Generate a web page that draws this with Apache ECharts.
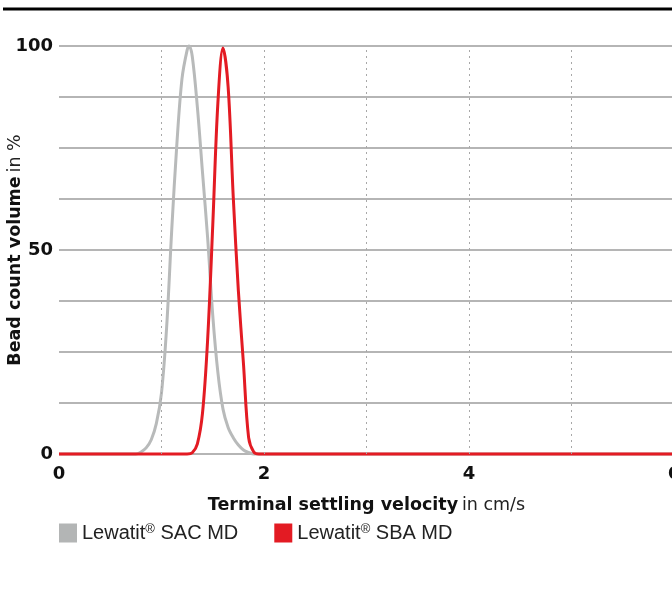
<!DOCTYPE html>
<html>
<head>
<meta charset="utf-8">
<script src="https://cdn.jsdelivr.net/npm/echarts@6/dist/echarts.min.js"></script>
<style>html,body{margin:0;padding:0;background:#fff}#c{width:672px;height:601px}</style>
</head>
<body>
<div id="c"></div>
<script>
var seriesNames = ['Lewatit® SAC MD', 'Lewatit® SBA MD'];
var sacX = [0, 0.7, 0.75, 0.8, 0.85, 0.9, 0.95, 1.0, 1.05, 1.1, 1.15, 1.2, 1.25, 1.27, 1.3, 1.35, 1.4, 1.45, 1.5, 1.55, 1.6, 1.65, 1.7, 1.75, 1.8, 1.85, 1.9, 1.95, 6];
var sacY = [0, 0, 0, 0.5, 1.5, 3.5, 7.5, 15, 31, 55, 76, 92, 99, 100, 97.5, 85, 69, 53, 34, 20, 11, 6.5, 4, 2.2, 1, 0.4, 0, 0, 0];
var sbaX = [0, 1.2, 1.25, 1.3, 1.35, 1.4, 1.45, 1.5, 1.55, 1.6, 1.65, 1.7, 1.75, 1.8, 1.85, 1.9, 1.95, 2.0, 6];
var sbaY = [0, 0, 0, 0.3, 2.5, 10, 28, 56, 86, 99.5, 90, 63, 40, 22, 4, 0.5, 0, 0, 0];
var xTicks = [0, 2, 4, 6];
var yTicks = [0, 50, 100];
var dottedX = [1, 2, 3, 4, 5];

function pairs(xs, ys) { return xs.map(function (x, i) { return [x, ys[i]]; }); }

var boldFont = 'DejaVu Sans';
var legendFont = 'Liberation Sans';
var chart = echarts.init(document.getElementById('c'));
chart.setOption({
  animation: false,
  textStyle: { fontFamily: boldFont },
  graphic: [{
    type: 'line', shape: { x1: 3, y1: 9, x2: 672, y2: 9 },
    style: { stroke: '#000', lineWidth: 3 }
  }],
  grid: { left: 59, top: 46, width: 615, height: 408, outerBoundsMode: 'none', containLabel: false },
  legend: {
    left: 59, top: 523, padding: 0, itemWidth: 18, itemHeight: 19, itemGap: 36,
    icon: 'rect',
    data: seriesNames,
    formatter: function (n) { return n.replace('®', '{s|®}'); },
    textStyle: {
      fontFamily: legendFont, fontSize: 20, color: '#222',
      rich: { s: { fontFamily: legendFont, fontSize: 13, verticalAlign: 'top', color: '#222', padding: [0, 0, 6, 0] } }
    }
  },
  xAxis: {
    type: 'value', min: 0, max: 6, interval: 1,
    axisLine: { show: false }, axisTick: { show: false },
    splitLine: { show: false },
    axisLabel: {
      margin: 11, fontSize: 18, fontWeight: 'bold', color: '#111', fontFamily: boldFont,
      formatter: function (v) { return xTicks.indexOf(v) >= 0 ? String(v) : ''; }
    },
    name: '{b|Terminal settling velocity} {n|in cm/s}',
    nameLocation: 'middle', nameGap: 42, nameMoveOverlap: false,
    nameTextStyle: {
      rich: {
        b: { fontSize: 17.5, fontWeight: 'bold', color: '#111', fontFamily: boldFont },
        n: { fontSize: 17.5, color: '#222', fontFamily: boldFont }
      }
    }
  },
  yAxis: {
    type: 'value', min: 0, max: 100, interval: 12.5,
    axisLine: { show: false }, axisTick: { show: false },
    splitLine: { show: true, lineStyle: { color: '#9c9c9c', width: 1.5 } },
    axisLabel: {
      margin: 6, fontSize: 18, fontWeight: 'bold', color: '#111', fontFamily: boldFont,
      formatter: function (v) { return yTicks.indexOf(v) >= 0 ? String(v) : ''; }
    },
    name: '{b|Bead count volume} {n|in %}',
    nameLocation: 'middle', nameGap: 35, nameRotate: 90, nameMoveOverlap: false,
    nameTextStyle: {
      rich: {
        b: { fontSize: 17.5, fontWeight: 'bold', color: '#111', fontFamily: boldFont },
        n: { fontSize: 17.5, color: '#222', fontFamily: boldFont }
      }
    }
  },
  series: [{
    name: seriesNames[0], type: 'line', data: pairs(sacX, sacY),
    smooth: 0.35, showSymbol: false, clip: false,
    color: '#b3b5b5',
    lineStyle: { width: 3, color: '#b8baba' },
    markLine: {
      silent: true, symbol: 'none', label: { show: false },
      lineStyle: { type: [2, 4], color: '#a8a8a8', width: 1 },
      data: dottedX.map(function (x) { return { xAxis: x }; })
    },
    z: 2
  }, {
    name: seriesNames[1], type: 'line', data: pairs(sbaX, sbaY),
    smooth: 0.35, showSymbol: false, clip: false,
    color: '#e31b23',
    lineStyle: { width: 3, color: '#e31b23' },
    z: 3
  }]
});
</script>
</body>
</html>
